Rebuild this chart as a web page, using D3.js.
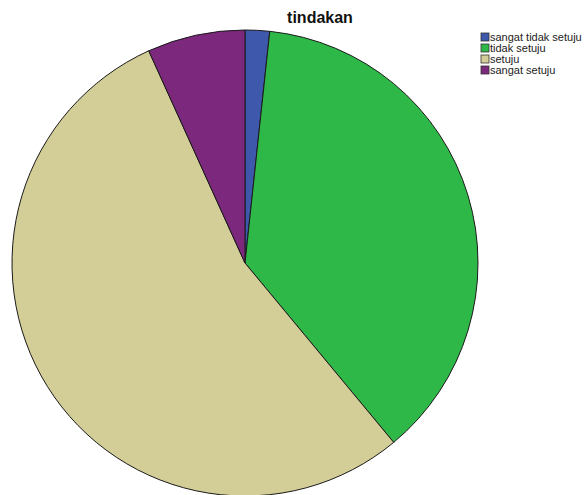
<!DOCTYPE html>
<html><head><meta charset="utf-8">
<script src="https://cdn.jsdelivr.net/npm/d3@7"></script>
<style>body{margin:0;background:#fff}</style>
</head><body>
<svg id="c" width="586" height="495"></svg>
<script>
const categories = ["sangat tidak setuju", "tidak setuju", "setuju", "sangat setuju"];
const values = [1, 22, 32, 4];
const colors = ["#3E58AC", "#2EB848", "#D3CE97", "#7C287D"];
const title = "tindakan";

const svg = d3.select("#c");
const cx = 245, cy = 263, r = 233;
const pie = d3.pie().sort(null).value(d => d.v);
const arc = d3.arc().innerRadius(0).outerRadius(r);
const data = categories.map((c, i) => ({c, v: values[i], col: colors[i]}));
const g = svg.append("g").attr("transform", `translate(${cx},${cy})`);
g.selectAll("path").data(pie(data)).join("path")
  .attr("d", arc).attr("fill", d => d.data.col)
  .attr("stroke", "#1a1a1a").attr("stroke-width", 1).attr("stroke-linejoin", "round");

svg.append("text").attr("x", 320).attr("y", 23).attr("text-anchor", "middle")
  .attr("font-family", "Liberation Sans, Arial, sans-serif").attr("font-weight", "bold")
  .attr("font-size", 16).attr("fill", "#111").text(title);

const lg = svg.append("g").attr("transform", "translate(481,33)");
const row = lg.selectAll("g").data(data).join("g").attr("transform", (d, i) => `translate(0,${i * 11})`);
row.append("rect").attr("width", 8).attr("height", 8).attr("fill", d => d.col)
  .attr("stroke", "#333").attr("stroke-width", 0.8);
row.append("text").attr("x", 9).attr("y", 8).attr("font-family", "Liberation Sans, Arial, sans-serif")
  .attr("font-size", 11).attr("fill", "#222").text(d => d.c);
</script>
</body></html>
